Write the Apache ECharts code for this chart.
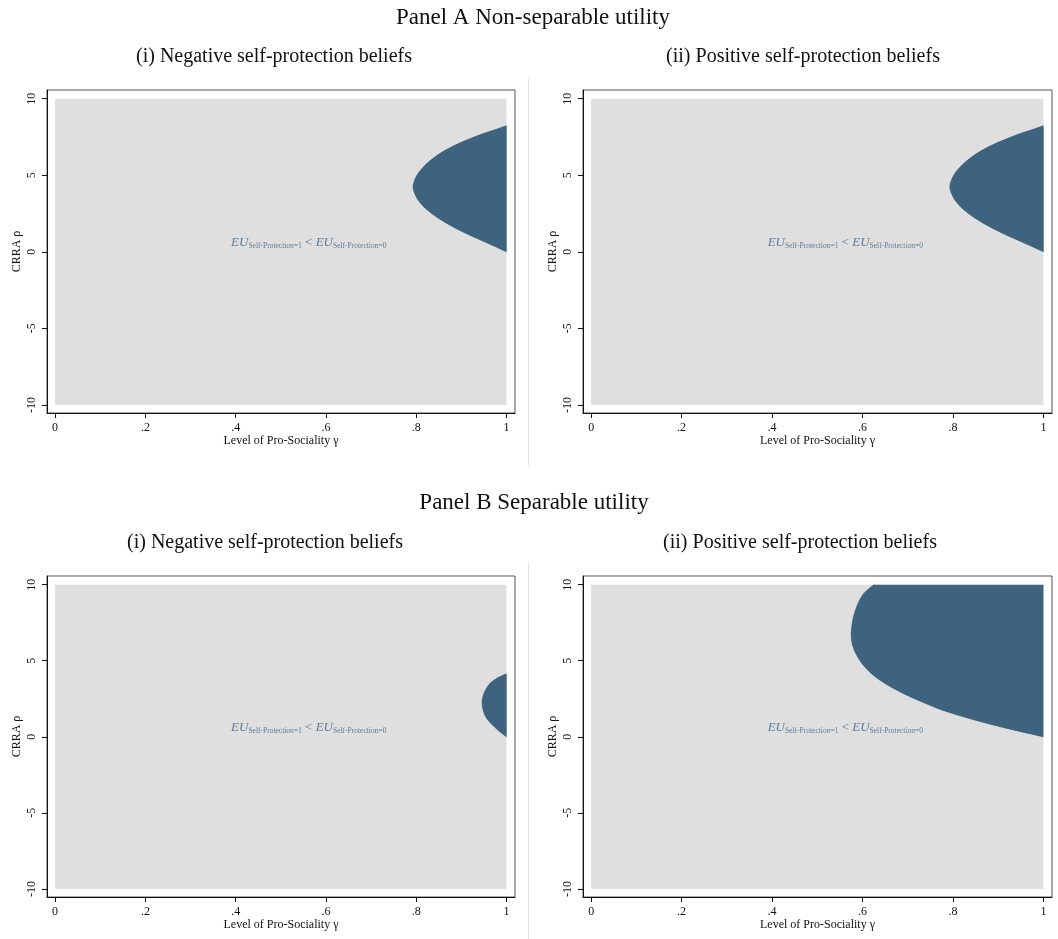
<!DOCTYPE html>
<html>
<head>
<meta charset="utf-8">
<script src="https://cdn.jsdelivr.net/npm/echarts@6/dist/echarts.min.js"></script>
<style>
  html, body { margin: 0; padding: 0; background: #fff; }
  #chart { width: 1058px; height: 939px; }
</style>
</head>
<body>
<div id="chart"></div>
<script>
// tick values and labels
var xTicks = [0, 0.2, 0.4, 0.6, 0.8, 1];
var xTickLabels = ['0', '.2', '.4', '.6', '.8', '1'];
var yTicks = [-10, -5, 0, 5, 10];
var yTickLabels = ['-10', '-5', '0', '5', '10'];

// whole parameter region (gray)
var regionX = [0, 1, 1, 0];
var regionY = [-10, -10, 10, 10];

// boundary curve of the dark region (top -> bottom)
var aNegX = [1.000, 0.975, 0.948, 0.912, 0.880, 0.849, 0.822, 0.805, 0.797, 0.793, 0.797, 0.805, 0.822, 0.849, 0.880, 0.912, 0.948, 0.975, 1.000];
var aNegY = [8.24, 7.98, 7.72, 7.30, 6.88, 6.35, 5.72, 5.15, 4.70, 4.25, 3.80, 3.35, 2.80, 2.20, 1.66, 1.18, 0.70, 0.34, 0.00];

var aPosX = [1.000, 0.975, 0.948, 0.912, 0.880, 0.849, 0.822, 0.805, 0.797, 0.793, 0.797, 0.805, 0.822, 0.849, 0.880, 0.912, 0.948, 0.975, 1.000];
var aPosY = [8.24, 7.98, 7.72, 7.30, 6.88, 6.35, 5.72, 5.15, 4.70, 4.25, 3.80, 3.35, 2.80, 2.20, 1.66, 1.18, 0.70, 0.34, 0.00];

var bNegX = [1.000, 0.981, 0.965, 0.954, 0.948, 0.946, 0.948, 0.954, 0.965, 0.981, 1.000];
var bNegY = [4.14, 3.88, 3.55, 3.10, 2.65, 2.22, 1.80, 1.32, 0.90, 0.45, 0.00];

var bPosX = [0.625, 0.602, 0.588, 0.579, 0.575, 0.577, 0.584, 0.598, 0.620, 0.650, 0.690, 0.735, 0.772, 0.846, 0.920, 1.000];
var bPosY = [10.0, 9.39, 8.62, 7.75, 6.80, 6.15, 5.55, 4.85, 4.15, 3.50, 2.85, 2.25, 1.80, 1.12, 0.55, 0.00];

var titles = ['Panel A Non-separable utility', 'Panel B Separable utility'];
var subtitles = ['(i) Negative self-protection beliefs', '(ii) Positive self-protection beliefs'];

var serif = '"Liberation Serif", "DejaVu Serif", serif';
var grayFill = '#dfdfdf';
var blueFill = '#3e637e';
var noteColor = '#5b7c99';

var grids = [
  { left: 47, top: 90, width: 468, height: 323 },
  { left: 583, top: 90, width: 469, height: 323 },
  { left: 47, top: 576, width: 468, height: 321 },
  { left: 583, top: 576, width: 469, height: 321 }
];
var regions = [[aNegX, aNegY], [aPosX, aPosY], [bNegX, bNegY], [bPosX, bPosY]];

function tickLabel(ticks, labels) {
  return function (v) {
    for (var i = 0; i < ticks.length; i++) {
      if (Math.abs(ticks[i] - v) < 1e-9) return labels[i];
    }
    return '';
  };
}

function rect(g, xs, ys, color) {
  return {
    type: 'custom',
    xAxisIndex: g,
    yAxisIndex: g,
    silent: true,
    data: [[xs[0], ys[0]]],
    renderItem: function (params, api) {
      var pts = [];
      for (var i = 0; i < xs.length; i++) pts.push(api.coord([xs[i], ys[i]]));
      return { type: 'polygon', shape: { points: pts }, style: { fill: color } };
    }
  };
}

// dark region: straight-edged polygon underneath, smoothed boundary on top
function region(g, xs, ys, color) {
  return {
    type: 'custom',
    xAxisIndex: g,
    yAxisIndex: g,
    silent: true,
    clip: true,
    data: [[xs[0], ys[0]]],
    renderItem: function (params, api) {
      var pts = [];
      for (var i = 0; i < xs.length; i++) pts.push(api.coord([xs[i], ys[i]]));
      var corner = api.coord([xs[xs.length - 1], ys[0]]);
      var body = pts.concat([corner]);
      return {
        type: 'group',
        children: [
          { type: 'polygon', shape: { points: body }, style: { fill: color } },
          { type: 'polyline', shape: { points: pts, smooth: 0.35 }, style: { fill: color, stroke: color, lineWidth: 0.6 } }
        ]
      };
    }
  };
}

function note(g) {
  return {
    type: 'custom',
    xAxisIndex: g,
    yAxisIndex: g,
    silent: true,
    data: [[0.562, 0.6]],
    renderItem: function (params, api) {
      var p = api.coord([api.value(0), api.value(1)]);
      return {
        type: 'text',
        x: p[0],
        y: p[1],
        style: {
          text: '{eu|EU}{sub|Self-Protection=1}{lt| < }{eu|EU}{sub|Self-Protection=0}',
          align: 'center',
          verticalAlign: 'middle',
          fill: noteColor,
          rich: {
            eu: { fontFamily: serif, fontStyle: 'italic', fontSize: 13, lineHeight: 14, verticalAlign: 'top', fill: noteColor },
            lt: { fontFamily: serif, fontSize: 13, lineHeight: 14, verticalAlign: 'top', fill: noteColor },
            sub: { fontFamily: serif, fontSize: 7.5, lineHeight: 8, verticalAlign: 'bottom', fill: noteColor }
          }
        }
      };
    }
  };
}

var xAxes = [], yAxes = [], series = [];
grids.forEach(function (gr, g) {
  xAxes.push({
    gridIndex: g,
    type: 'value',
    min: -0.018,
    max: 1.019,
    name: 'Level of Pro-Sociality γ',
    nameLocation: 'middle',
    nameGap: 22,
    nameTextStyle: { fontFamily: serif, fontSize: 12, color: '#111' },
    axisLine: { show: true, onZero: false, lineStyle: { color: '#111', width: 1 } },
    axisTick: { show: true, length: 5, customValues: xTicks, lineStyle: { color: '#111' } },
    axisLabel: { customValues: xTicks, formatter: tickLabel(xTicks, xTickLabels), margin: 9, fontFamily: serif, fontSize: 12, color: '#111' },
    splitLine: { show: false }
  });
  yAxes.push({
    gridIndex: g,
    type: 'value',
    min: -10.53,
    max: 10.57,
    name: 'CRRA ρ',
    nameLocation: 'middle',
    nameGap: 24,
    nameTextStyle: { fontFamily: serif, fontSize: 12, color: '#111' },
    axisLine: { show: true, onZero: false, lineStyle: { color: '#111', width: 1 } },
    axisTick: { show: true, length: 5, customValues: yTicks, lineStyle: { color: '#111' } },
    axisLabel: { customValues: yTicks, formatter: tickLabel(yTicks, yTickLabels), rotate: 90, margin: 9, fontFamily: serif, fontSize: 12, color: '#111' },
    splitLine: { show: false }
  });
  series.push(rect(g, regionX, regionY, grayFill));
  series.push(region(g, regions[g][0], regions[g][1], blueFill));
  series.push(note(g));
});

function txt(s, x, y, size) {
  return {
    type: 'text', x: x, y: y, silent: true,
    style: { text: s, font: size + 'px ' + serif, fill: '#111', align: 'center', verticalAlign: 'middle' }
  };
}
function vline(x, y1, y2) {
  return { type: 'line', silent: true, shape: { x1: x, y1: y1, x2: x, y2: y2 }, style: { stroke: '#e4e4e4', lineWidth: 1 } };
}

var chart = echarts.init(document.getElementById('chart'));
chart.setOption({
  animation: false,
  backgroundColor: '#fff',
  grid: grids.map(function (gr) {
    return Object.assign({ show: true, borderColor: '#555', borderWidth: 1, backgroundColor: '#fff' }, gr);
  }),
  xAxis: xAxes,
  yAxis: yAxes,
  graphic: [
    txt(titles[0], 533, 18, 23),
    txt(subtitles[0], 274, 57, 20),
    txt(subtitles[1], 803, 57, 20),
    txt(titles[1], 534, 503, 23),
    txt(subtitles[0], 265, 543, 20),
    txt(subtitles[1], 800, 543, 20),
    vline(528.5, 77, 467),
    vline(528.5, 562, 939)
  ],
  series: series
});
</script>
</body>
</html>
